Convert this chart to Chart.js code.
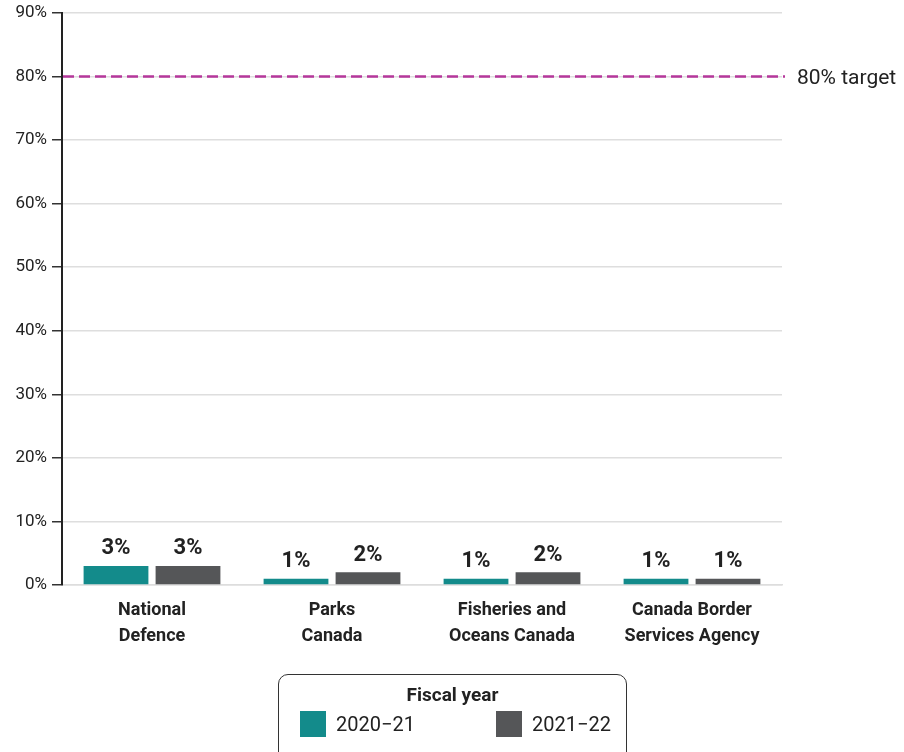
<!DOCTYPE html>
<html>
<head>
<meta charset="utf-8">
<script src="https://cdn.jsdelivr.net/npm/chart.js@4/dist/chart.umd.min.js"></script>
<style>
  html, body { margin: 0; padding: 0; background: #fff; }
  #wrap { position: relative; width: 904px; height: 752px; overflow: hidden; }
  #legend {
    position: absolute; left: 278px; top: 674px; width: 349px; height: 100px;
    border: 1.5px solid #333; border-radius: 10px; box-sizing: border-box;
    font-family: Roboto, sans-serif; color: #222;
  }
  #legend .title { position: absolute; top: 8px; width: 100%; text-align: center; font-weight: bold; font-size: 19px; }
  #legend .item { position: absolute; top: 36px; display: flex; align-items: center; font-size: 20px; }
  #legend .sw { width: 26px; height: 26px; margin-right: 10px; }
</style>
</head>
<body>
<div id="wrap">
  <canvas id="chart" width="904" height="752"></canvas>
  <div id="legend">
    <div class="title">Fiscal year</div>
    <div class="item" style="left:21px"><span class="sw" style="background:#138b8b"></span>2020−21</div>
    <div class="item" style="left:217px"><span class="sw" style="background:#555658"></span>2021−22</div>
  </div>
</div>
<script>
const categories = [["National", "Defence"], ["Parks", "Canada"], ["Fisheries and", "Oceans Canada"], ["Canada Border", "Services Agency"]];
const fy2020 = [3, 1, 1, 1];
const fy2021 = [3, 2, 2, 1];
const targetValue = 80;
const targetLabel = "80% target";

const valueLabels = {
  id: 'valueLabels',
  afterDatasetsDraw(chart) {
    const ctx = chart.ctx;
    ctx.save();
    ctx.font = 'bold 22px Roboto';
    ctx.fillStyle = '#222';
    ctx.textAlign = 'center';
    ctx.textBaseline = 'bottom';
    chart.data.datasets.forEach((ds, i) => {
      chart.getDatasetMeta(i).data.forEach((bar, j) => {
        ctx.fillText(ds.data[j] + '%', bar.x, bar.y - 6);
      });
    });
    ctx.restore();
  }
};

const targetLine = {
  id: 'targetLine',
  afterDatasetsDraw(chart) {
    const ctx = chart.ctx;
    const area = chart.chartArea;
    const y = chart.scales.y.getPixelForValue(targetValue);
    ctx.save();
    ctx.strokeStyle = '#b5379b';
    ctx.lineWidth = 2.5;
    ctx.setLineDash([11, 5]);
    ctx.beginPath();
    ctx.moveTo(area.left + 1, y);
    ctx.lineTo(area.right + 3, y);
    ctx.stroke();
    ctx.setLineDash([]);
    ctx.font = '21px Roboto';
    ctx.fillStyle = '#222';
    ctx.textBaseline = 'middle';
    ctx.fillText(targetLabel, area.right + 15, y + 2);
    ctx.restore();
  }
};

new Chart(document.getElementById('chart'), {
  type: 'bar',
  data: {
    labels: categories,
    datasets: [
      { label: '2020−21', data: fy2020, backgroundColor: '#138b8b' },
      { label: '2021−22', data: fy2021, backgroundColor: '#555658' }
    ]
  },
  options: {
    responsive: false,
    animation: false,
    layout: { padding: { top: 13, right: 122, bottom: 67, left: 0 } },
    datasets: { bar: { categoryPercentage: 0.8, barPercentage: 0.9 } },
    scales: {
      x: {
        grid: { display: false },
        border: { color: '#ddd', width: 1.5 },
        ticks: { color: '#222', font: { family: 'Roboto', size: 18, weight: 'bold', lineHeight: 1.45 }, padding: 4, maxRotation: 0 },
        afterFit(scale) { scale.height = 100; }
      },
      y: {
        min: 0, max: 90,
        ticks: { stepSize: 10, color: '#222', font: { family: 'Roboto', size: 17 }, padding: 5, callback: v => v + '%' },
        grid: { color: '#dedede', lineWidth: 1.5, tickLength: 10, tickColor: '#333' },
        border: { color: '#222', width: 2 },
        afterFit(scale) { scale.width = 62; scale.paddingTop = 0; scale.paddingBottom = 0; }
      }
    },
    plugins: { legend: { display: false }, tooltip: { enabled: false } }
  },
  plugins: [valueLabels, targetLine]
});
</script>
</body>
</html>
